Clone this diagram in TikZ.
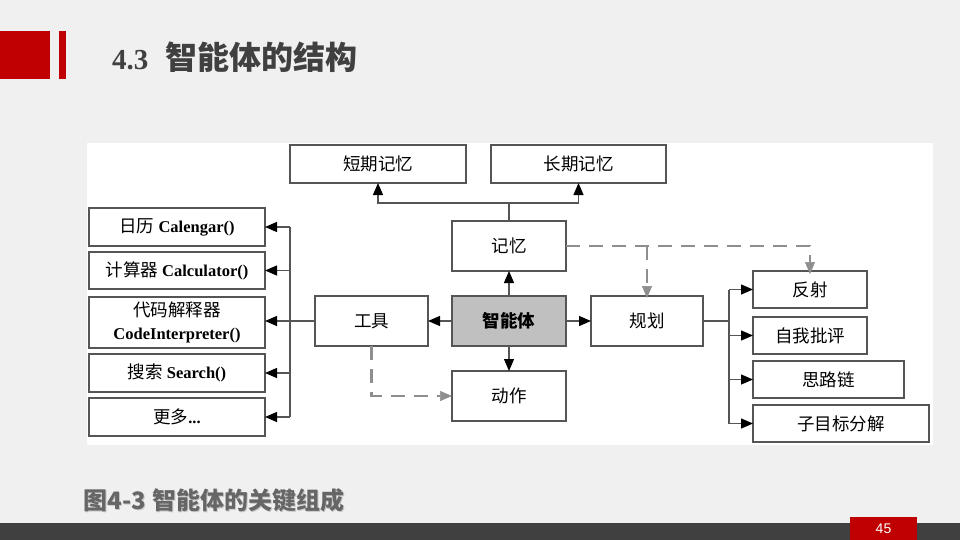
\documentclass[tikz,border=0pt]{standalone}
\usepackage{fontspec}
\setmainfont{Liberation Serif}
\newfontfamily\cjk{Noto Sans CJK SC}
\newfontfamily\lsans{Liberation Sans}
\usetikzlibrary{arrows.meta}
\definecolor{slidebg}{HTML}{F0F0F0}
\definecolor{slidered}{HTML}{C00000}
\definecolor{titlegray}{HTML}{404040}
\definecolor{capgray}{HTML}{666666}
\definecolor{linegray}{HTML}{555555}
\definecolor{dashgray}{HTML}{8E8E8E}
\definecolor{agentfill}{HTML}{C0C0C0}
\tikzset{
  box/.style={draw=linegray, line width=1.2pt, fill=white, inner sep=0pt, outer sep=0pt,
    align=center, font=\fontsize{16.5}{23}\selectfont, text=black},
  cj/.style={font=\cjk\fontsize{17.5}{23}\selectfont},
  conn/.style={draw=linegray, line width=1.2pt},
  arr/.style={conn, -{Triangle[length=12pt,width=10pt,color=black,fill=black]}},
  dsh/.style={draw=dashgray, line width=2.2pt, dash pattern=on 14pt off 9pt},
  darr/.style={dsh, -{Triangle[length=12pt,width=10pt,color=dashgray,fill=dashgray,line width=0.5pt]}},
}
\begin{document}
\begin{tikzpicture}[x=1pt,y=-1pt]
\useasboundingbox (0,0) rectangle (960,540);
\fill[slidebg] (0,0) rectangle (960,540);
% header marks
\fill[slidered] (0,31) rectangle (50,79);
\fill[slidered] (59,31) rectangle (66,79);
\node[anchor=west, text=titlegray, inner sep=0pt] (title) at (112,57)
  {\fontsize{29}{34}\selectfont\bfseries 4.3\hspace{17pt}{\cjk\fontsize{32}{36}\selectfont 智能体的结构}};
% diagram white area
\fill[white] (87,143) rectangle (933,445);
% boxes
\node[box, cj, minimum width=176pt, minimum height=38pt] (st) at (378,164) {短期记忆};
\node[box, cj, minimum width=175pt, minimum height=38pt] (lt) at (578.5,164) {长期记忆};
\node[box, cj, minimum width=114pt, minimum height=50pt] (mem) at (509,246) {记忆};
\node[box, cj, minimum width=114pt, minimum height=50pt, fill=agentfill] (agent) at (509,321) {\bfseries 智能体};
\node[box, cj, minimum width=112pt, minimum height=50pt] (plan) at (647,321) {规划};
\node[box, cj, minimum width=113pt, minimum height=50pt] (tool) at (371.5,321) {工具};
\node[box, cj, minimum width=114pt, minimum height=50pt] (act) at (509,396) {动作};
\node[box, cj, minimum width=114pt, minimum height=37pt] (fs) at (810,289.5) {反射};
\node[box, cj, minimum width=114pt, minimum height=37pt] (zw) at (810,335.5) {自我批评};
\node[box, cj, minimum width=151pt, minimum height=37pt] (sl) at (828.5,379.5) {思路链};
\node[box, cj, minimum width=176pt, minimum height=37pt] (zm) at (841,423.5) {子目标分解};
\node[box, minimum width=176pt, minimum height=38pt] (cal) at (177,227) {{\cjk\fontsize{17.5}{23}\selectfont 日历} \textbf{Calengar()}};
\node[box, minimum width=176pt, minimum height=37pt] (calc) at (177,270.5) {{\cjk\fontsize{17.5}{23}\selectfont 计算器} \textbf{Calculator()}};
\node[box, minimum width=176pt, minimum height=51pt] (code) at (177,322.5) {{\cjk\fontsize{17.5}{23}\selectfont 代码解释器}\\\textbf{CodeInterpreter()}};
\node[box, minimum width=176pt, minimum height=38pt] (search) at (177,373) {{\cjk\fontsize{17.5}{23}\selectfont 搜索} \textbf{Search()}};
\node[box, minimum width=176pt, minimum height=38pt] (more) at (177,417) {{\cjk\fontsize{17.5}{23}\selectfont 更多}\textbf{...}};
% memory split
\coordinate (mj) at (509,203);
\draw[conn] (mem.north) -- (mj);
\draw[arr] (mj) -| (st.south);
\draw[arr] (mj) -| (lt.south);
% agent connections
\draw[arr] (agent.north) -- (mem.south);
\draw[arr] (agent.west) -- (tool.east);
\draw[arr] (agent.east) -- (plan.west);
\draw[arr] (agent.south) -- (act.north);
% tool bus
\coordinate (lb) at (290,321);
\draw[conn] (cal.east -| lb) -- (more.east -| lb);
\draw[arr] (tool.west) -- (tool.west -| code.east);
\draw[arr] (cal.east -| lb) -- (cal.east);
\draw[arr] (calc.east -| lb) -- (calc.east);
\draw[arr] (search.east -| lb) -- (search.east);
\draw[arr] (more.east -| lb) -- (more.east);
% plan bus
\coordinate (rb) at (729,321);
\draw[conn] (plan.east) -- (rb);
\draw[conn] (fs.west -| rb) -- (zm.west -| rb);
\draw[arr] (fs.west -| rb) -- (fs.west);
\draw[arr] (zw.west -| rb) -- (zw.west);
\draw[arr] (sl.west -| rb) -- (sl.west);
\draw[arr] (zm.west -| rb) -- (zm.west);
% dashed
\coordinate (dj) at (647,246);
\draw[darr] (mem.east) -| ([yshift=-3pt]fs.north);
\draw[darr] (dj) -- ([yshift=-2pt]plan.north);
\draw[darr] (tool.south) |- (act.west);
% caption
\node[anchor=west, inner sep=0pt, text=black!22] at (84.6,501.6)
  {\cjk\bfseries\fontsize{24}{28}\selectfont 图4-3\hspace{6pt}智能体的关键组成};
\node[anchor=west, inner sep=0pt, text=capgray] (cap) at (83.5,500.5)
  {\cjk\bfseries\fontsize{24}{28}\selectfont 图4-3\hspace{6pt}智能体的关键组成};
% footer
\fill[titlegray] (0,523) rectangle (960,540);
\fill[slidered] (850,517) rectangle (917,540);
\node[text=white, inner sep=0pt, font=\lsans\fontsize{14}{16}\selectfont] (pg) at (883.5,529) {45};
\end{tikzpicture}
\end{document}
